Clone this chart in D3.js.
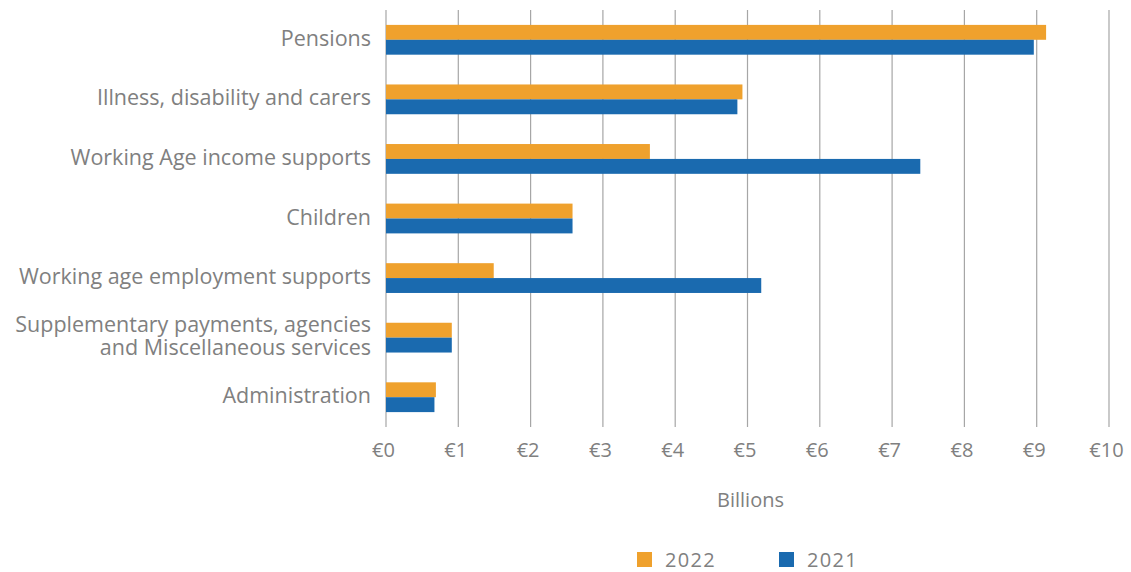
<!DOCTYPE html>
<html>
<head>
<meta charset="utf-8">
<script src="https://cdn.jsdelivr.net/npm/d3@7"></script>
<style>
  html, body { margin: 0; padding: 0; background: #fff; }
  svg { display: block; }
  text { font-family: "Open Sans", "Noto Sans", sans-serif; fill: #808080; }
</style>
</head>
<body>
<svg id="chart" width="1131" height="572"></svg>
<script>
// Spending by programme area, € billions
const categories = [
  ["Pensions"],
  ["Illness, disability and carers"],
  ["Working Age income supports"],
  ["Children"],
  ["Working age employment supports"],
  ["Supplementary payments, agencies", "and Miscellaneous services"],
  ["Administration"]
];
const seriesNames = ["2022", "2021"];
const values2022 = [9.13, 4.93, 3.65, 2.58, 1.49, 0.91, 0.69];
const values2021 = [8.96, 4.86, 7.39, 2.58, 5.19, 0.91, 0.67];
const tickValues = [0, 1, 2, 3, 4, 5, 6, 7, 8, 9, 10];
const tickLabels = ["€0", "€1", "€2", "€3", "€4", "€5", "€6", "€7", "€8", "€9", "€10"];
const axisTitle = "Billions";

const colors = { "2022": "#EFA12D", "2021": "#1A6AAF" };

const svg = d3.select("#chart");
const plot = { left: 386, right: 1109, top: 10, bottom: 427 };

const x = d3.scaleLinear().domain([0, 10]).range([plot.left, plot.right]);
const y = d3.scaleBand().domain(d3.range(categories.length))
  .range([plot.top, plot.bottom]).paddingInner(0.5).paddingOuter(0.25);
const inner = d3.scaleBand().domain(seriesNames).range([0, y.bandwidth()]);

// vertical gridlines
svg.append("g").selectAll("line").data(tickValues).join("line")
  .attr("x1", d => x(d)).attr("x2", d => x(d))
  .attr("y1", plot.top).attr("y2", plot.bottom)
  .attr("stroke", "#a6a6a6").attr("stroke-width", 1.2);

// bars
const rows = categories.map((c, i) => ({ i, v: { "2022": values2022[i], "2021": values2021[i] } }));
const g = svg.append("g").selectAll("g").data(rows).join("g")
  .attr("transform", d => `translate(0,${y(d.i)})`);
g.selectAll("rect").data(d => seriesNames.map(s => ({ s, v: d.v[s] }))).join("rect")
  .attr("x", x(0))
  .attr("y", d => inner(d.s))
  .attr("width", d => x(d.v) - x(0))
  .attr("height", inner.bandwidth())
  .attr("fill", d => colors[d.s]);

// category labels (multi-line labels are stacked around the band centre)
const labelX = 371, lineH = 23.5;
rows.forEach(d => {
  const lines = categories[d.i];
  const cy = y(d.i) + y.bandwidth() / 2;
  lines.forEach((ln, k) => {
    svg.append("text")
      .attr("text-anchor", "end")
      .attr("font-size", 21.5)
      .attr("x", labelX)
      .attr("y", cy + 6 + (k - (lines.length - 1) / 2) * lineH)
      .text(ln);
  });
});

// x axis tick labels
const axis = d3.axisBottom(x).tickValues(tickValues)
  .tickFormat((d, i) => tickLabels[i]).tickSize(0).tickPadding(16);
const ax = svg.append("g").attr("transform", `translate(0,${plot.bottom})`).call(axis);
ax.select(".domain").remove();
ax.selectAll("text").attr("font-size", 20).attr("fill", "#808080")
  .attr("dx", -3)
  .style("font-family", "'Open Sans', sans-serif");

// axis title
svg.append("text").attr("x", (plot.left + plot.right) / 2 + 3).attr("y", 507)
  .attr("text-anchor", "middle").attr("font-size", 20).text(axisTitle);

// legend
const legX = [637, 779];
const leg = svg.append("g").selectAll("g").data(seriesNames).join("g")
  .attr("transform", (d, i) => `translate(${legX[i]},552)`);
leg.append("rect").attr("width", 15).attr("height", 15).attr("fill", d => colors[d]);
leg.append("text").attr("x", 28).attr("y", 15).attr("font-size", 20)
  .attr("letter-spacing", 1.3).text(d => d);
</script>
</body>
</html>
